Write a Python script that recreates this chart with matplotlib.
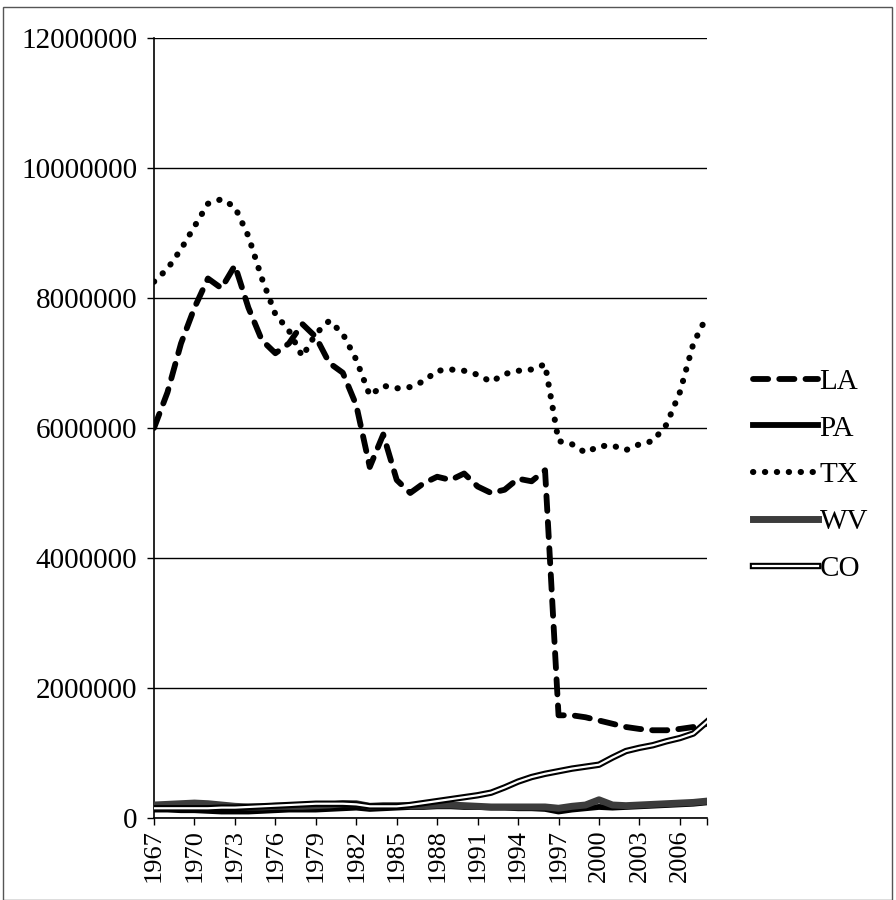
import matplotlib
matplotlib.use("Agg")
import matplotlib.pyplot as plt
import matplotlib.patheffects as pe
import numpy as np
from matplotlib.patches import Rectangle
from matplotlib.ticker import StrMethodFormatter

years = list(range(1967, 2009))

# values in millions
la = [6.0, 6.55, 7.3, 7.85, 8.3, 8.15, 8.5, 7.85, 7.35, 7.15,
      7.3, 7.6, 7.4, 7.0, 6.85, 6.35, 5.4, 5.9, 5.2, 5.0,
      5.15, 5.25, 5.2, 5.3, 5.1, 5.0, 5.05, 5.22, 5.18, 5.35,
      1.58, 1.58, 1.55, 1.5, 1.45, 1.4, 1.37, 1.35, 1.35, 1.37,
      1.4, 1.45]
tx = [8.25, 8.45, 8.75, 9.1, 9.45, 9.52, 9.4, 8.95, 8.3, 7.75,
      7.5, 7.1, 7.45, 7.65, 7.45, 7.05, 6.5, 6.65, 6.61, 6.63,
      6.72, 6.88, 6.9, 6.88, 6.82, 6.71, 6.83, 6.88, 6.9, 6.98,
      5.8, 5.75, 5.62, 5.72, 5.73, 5.66, 5.75, 5.8, 6.05, 6.55,
      7.3, 7.72]
pa = [0.13, 0.13, 0.12, 0.12, 0.11, 0.10, 0.10, 0.10, 0.11, 0.12,
      0.13, 0.13, 0.13, 0.14, 0.15, 0.16, 0.14, 0.15, 0.16, 0.17,
      0.17, 0.18, 0.18, 0.17, 0.17, 0.16, 0.16, 0.15, 0.15, 0.14,
      0.10, 0.13, 0.15, 0.17, 0.16, 0.17, 0.18, 0.19, 0.20, 0.21,
      0.22, 0.24]
wv = [0.20, 0.21, 0.22, 0.23, 0.22, 0.20, 0.18, 0.17, 0.17, 0.18,
      0.18, 0.18, 0.19, 0.20, 0.22, 0.22, 0.18, 0.19, 0.19, 0.19,
      0.19, 0.20, 0.20, 0.19, 0.18, 0.17, 0.17, 0.17, 0.17, 0.17,
      0.15, 0.18, 0.20, 0.28, 0.20, 0.19, 0.20, 0.21, 0.22, 0.23,
      0.24, 0.26]
co = [0.15, 0.15, 0.15, 0.15, 0.15, 0.16, 0.16, 0.17, 0.18, 0.19,
      0.20, 0.21, 0.22, 0.22, 0.22, 0.21, 0.18, 0.18, 0.18, 0.20,
      0.23, 0.26, 0.29, 0.32, 0.35, 0.39, 0.47, 0.56, 0.63, 0.68,
      0.72, 0.76, 0.79, 0.82, 0.93, 1.03, 1.08, 1.12, 1.18, 1.23,
      1.30, 1.48]

plt.rcParams["font.family"] = ["Liberation Serif", "DejaVu Serif"]

fig = plt.figure(figsize=(8.96, 9.0), dpi=100)
ax = fig.add_axes([0.1719, 0.0911, 0.617, 0.8667])

x = np.array(years)
scale = 1e6
ax.plot(x, np.array(la) * scale, color="black", lw=4.2, linestyle=(0, (2.6, 1.9)),
        dash_capstyle="round", label="LA", zorder=4)
ax.plot(x, np.array(pa) * scale, color="black", lw=4.2, label="PA", zorder=3)
ax.plot(x, np.array(tx) * scale, color="black", lw=4.4, linestyle=(0, (0.05, 1.9)),
        dash_capstyle="round", label="TX", zorder=4)
ax.plot(x, np.array(wv) * scale, color="#3c3c3c", lw=5, label="WV", zorder=3)
ax.plot(x, np.array(co) * scale, color="white", lw=1.6, label="CO", zorder=5,
        path_effects=[pe.Stroke(linewidth=4.6, foreground="black"), pe.Normal()])

ax.set_xlim(1967, 2008)
ax.set_ylim(0, 12000000)
ax.set_yticks(range(0, 12000001, 2000000))
ax.yaxis.set_major_formatter(StrMethodFormatter("{x:.0f}"))
ax.set_xticks(range(1967, 2007, 3))
ax.set_xticks([2008], minor=True)
ax.tick_params(axis="x", which="both", direction="out", length=5, width=1, rotation=90,
               labelsize=19, pad=3)
ax.tick_params(axis="y", direction="out", length=5, width=1, labelsize=21, pad=7)
ax.grid(axis="y", color="black", lw=1)
ax.set_axisbelow(True)
for side in ("top", "right"):
    ax.spines[side].set_visible(False)
for side in ("left", "bottom"):
    ax.spines[side].set_linewidth(1.2)

ax.legend(loc="center left", bbox_to_anchor=(738 / 896, 0.472),
          bbox_transform=fig.transFigure, frameon=False, fontsize=21,
          handlelength=2.25, handletextpad=0.05, labelspacing=0.7, borderpad=0)

fig.add_artist(Rectangle((3 / 896, 0.0), 889 / 896, 0.992, transform=fig.transFigure,
                         fill=False, lw=1, edgecolor="#555555"))

fig.savefig("out.png", dpi=100)
